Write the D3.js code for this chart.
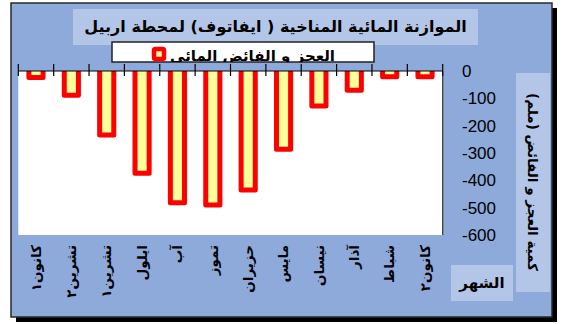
<!DOCTYPE html>
<html>
<head>
<meta charset="utf-8">
<script src="https://d3js.org/d3.v7.min.js"></script>
<style>
  body { margin: 0; background: #fff; }
  svg { display: block; }
  .ar { font-family: "DejaVu Sans", sans-serif; font-weight: bold; fill: #000; }
  .num { font-family: "Liberation Sans", Arial, sans-serif; fill: #000; }
</style>
</head>
<body>
<div id="chart"></div>
<script>
// months, right to left as in the original (Jan at the right end)
var months = ["كانون١", "تشرين٢", "تشرين١", "ايلول", "آب", "تموز", "حزيران", "مايس", "نيسان", "آذار", "شباط", "كانون٢"];
// deficit / surplus (mm)
var balance = [-24, -89, -234, -374, -482, -490, -435, -286, -128, -70, -21, -21];
var yTicks = [0, -100, -200, -300, -400, -500, -600];

var titleText = "الموازنة المائية المناخية ( ايفاتوف) لمحطة اربيل";
var legendText = "العجز و الفائض المائي";
var yTitle = "كمية العجز و الفائض (ملم)";
var xTitle = "الشهر";

var W = 563, H = 324;
var svg = d3.select("#chart").append("svg").attr("width", W).attr("height", H);

// frame with drop shadow
svg.append("rect").attr("x", 16).attr("y", 8).attr("width", 541).attr("height", 314).attr("fill", "#000");
svg.append("rect").attr("x", 11).attr("y", 3).attr("width", 541).attr("height", 314)
  .attr("fill", "#8eaadb").attr("stroke", "#2a2a2a").attr("stroke-width", 1.5);

var plot = {left: 18.3, right: 442.7, top: 71, bottom: 235};

var x = d3.scaleBand().domain(months).range([plot.left, plot.right])
  .paddingInner(0.6).paddingOuter(0.3);
var y = d3.scaleLinear().domain([0, -600]).range([plot.top, plot.bottom]);

// plot area
svg.append("rect").attr("x", plot.left).attr("y", plot.top)
  .attr("width", plot.right - plot.left).attr("height", plot.bottom - plot.top)
  .attr("fill", "#fff");

svg.append("defs").append("clipPath").attr("id", "plotclip")
  .append("rect").attr("x", plot.left).attr("y", plot.top)
  .attr("width", plot.right - plot.left).attr("height", plot.bottom - plot.top);

// bars
svg.append("g").attr("clip-path", "url(#plotclip)")
  .selectAll("rect").data(balance).enter().append("rect")
  .attr("x", function(d, i) { return x(months[i]); })
  .attr("y", y(0) - 3)
  .attr("width", x.bandwidth())
  .attr("height", function(d) { return y(d) - y(0) + 3; })
  .attr("fill", "#ffff99")
  .attr("stroke", "#ff0000")
  .attr("stroke-width", 5)
  .attr("stroke-linejoin", "round");

// right-hand axis line
svg.append("line").attr("x1", plot.right).attr("x2", plot.right)
  .attr("y1", plot.top).attr("y2", plot.bottom)
  .attr("stroke", "#333").attr("stroke-width", 1.2);

// category axis along zero, ticks between categories
var step = x.step();
var bounds = months.map(function(m) { return x(m) - step * x.paddingInner() / 2; });
bounds.push(plot.right);
svg.append("line").attr("x1", plot.left).attr("x2", plot.right)
  .attr("y1", y(0)).attr("y2", y(0)).attr("stroke", "#000").attr("stroke-width", 1.2);
svg.append("g").selectAll("line").data(bounds).enter().append("line")
  .attr("x1", function(d) { return d; }).attr("x2", function(d) { return d; })
  .attr("y1", y(0) - 7).attr("y2", y(0) + 5)
  .attr("stroke", "#000").attr("stroke-width", 1.2);

// value labels
svg.append("g").selectAll("text").data(yTicks).enter().append("text")
  .attr("class", "num")
  .attr("x", 462).attr("y", function(d) { return y(d); })
  .attr("dy", "0.36em")
  .style("font-size", "17px")
  .text(function(d) { return d; });

// month labels, vertical
svg.append("g").selectAll("text").data(months).enter().append("text")
  .attr("class", "ar")
  .attr("transform", function(d) { return "translate(" + (x(d) + x.bandwidth() / 2) + ",245) rotate(-90)"; })
  .attr("text-anchor", "end")
  .attr("dy", "0.35em")
  .style("font-size", "13.5px")
  .text(function(d) { return d; });

// title box
svg.append("rect").attr("x", 73).attr("y", 9).attr("width", 405).attr("height", 36).attr("fill", "#b4c6e7");
svg.append("text").attr("class", "ar")
  .attr("x", 275.5).attr("y", 32)
  .attr("text-anchor", "middle")
  .style("font-size", "16px")
  .text(titleText);

// legend
svg.append("defs").append("clipPath").attr("id", "legclip")
  .append("rect").attr("x", 112).attr("y", 42).attr("width", 262).attr("height", 20);
svg.append("rect").attr("x", 112).attr("y", 42).attr("width", 262).attr("height", 20)
  .attr("fill", "#fff").attr("stroke", "#222").attr("stroke-width", 1.5);
svg.append("rect").attr("x", 154).attr("y", 49).attr("width", 10).attr("height", 10)
  .attr("rx", 1.5).attr("fill", "#ffff99").attr("stroke", "#ff0000").attr("stroke-width", 4.5);
svg.append("text").attr("class", "ar").attr("clip-path", "url(#legclip)")
  .attr("x", 170).attr("y", 61)
  .style("font-size", "15px")
  .text(legendText);

// y axis title box
svg.append("rect").attr("x", 516).attr("y", 73).attr("width", 34).attr("height", 219).attr("fill", "#b4c6e7");
svg.append("text").attr("class", "ar")
  .attr("transform", "translate(533,182) rotate(90)")
  .attr("text-anchor", "middle")
  .attr("dy", "0.35em")
  .style("font-size", "13.5px")
  .text(yTitle);

// x axis title box
svg.append("rect").attr("x", 451).attr("y", 265).attr("width", 62).attr("height", 36).attr("fill", "#b4c6e7");
svg.append("text").attr("class", "ar")
  .attr("x", 482).attr("y", 288)
  .attr("text-anchor", "middle")
  .style("font-size", "15px")
  .text(xTitle);
</script>
</body>
</html>
